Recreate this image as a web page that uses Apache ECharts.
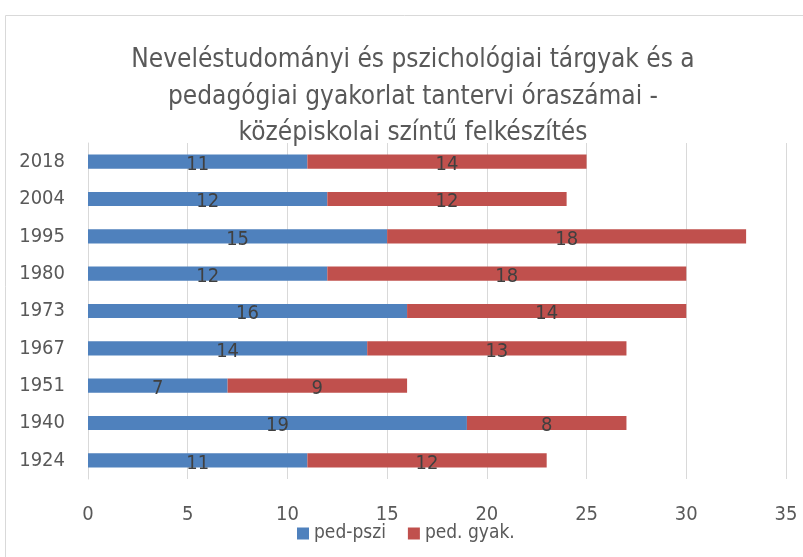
<!DOCTYPE html>
<html><head><meta charset="utf-8">
<script src="https://cdn.jsdelivr.net/npm/echarts@6/dist/echarts.min.js"></script>
<style>html,body{margin:0;padding:0;background:#fff}#c{width:803px;height:557px}</style>
</head><body><div id="c"></div>
<script>
const categories = ['1924','1940','1951','1967','1973','1980','1995','2004','2018'];
const pedPszi = [11, 19, 7, 14, 16, 12, 15, 12, 11];
const pedGyak = [12, 8, 9, 13, 14, 18, 18, 12, 14];
const seriesNames = ['ped-pszi', 'ped. gyak.'];
const xTicks = {min: 0, max: 35, interval: 5};
const titleText = 'Neveléstudományi és pszichológiai tárgyak és a\npedagógiai gyakorlat tantervi óraszámai -\nközépiskolai színtű felkészítés';

const FONT = '"Liberation Sans Narrow", "DejaVu Sans Condensed", "Open Sans", sans-serif';
const chart = echarts.init(document.getElementById('c'), null, {renderer: 'canvas'});
const lbl = {show: true, position: 'inside', color: '#404040', fontSize: 20, fontFamily: FONT, offset: [0, 3]};
chart.setOption({
  animation: false,
  graphic: [{type: 'rect', shape: {x: 5.5, y: 15.5, width: 820, height: 560}, style: {fill: 'none', stroke: '#D9D9D9', lineWidth: 1}, silent: true}],
  title: {text: titleText, left: 408, top: 37, textAlign: 'center',
    textStyle: {fontFamily: FONT, fontSize: 26, fontWeight: 'normal', color: '#595959', lineHeight: 36.5}},
  legend: {bottom: 9, left: 292, itemWidth: 12, itemHeight: 12, itemGap: 22, icon: 'rect',
    textStyle: {fontFamily: FONT, fontSize: 19, color: '#595959'}, data: seriesNames},
  grid: {left: 88, right: 17, top: 143, bottom: 78},
  xAxis: {type: 'value', min: xTicks.min, max: xTicks.max, interval: xTicks.interval,
    axisLine: {show: false}, axisTick: {show: false},
    axisLabel: {fontFamily: FONT, fontSize: 20, color: '#595959', margin: 26},
    splitLine: {lineStyle: {color: '#D9D9D9', width: 1}}},
  yAxis: {type: 'category', data: categories,
    axisLine: {show: true, lineStyle: {color: '#D9D9D9'}}, axisTick: {show: false},
    axisLabel: {fontFamily: FONT, fontSize: 20, color: '#595959', margin: 23}},
  series: [
    {name: seriesNames[0], type: 'bar', stack: 'a', data: pedPszi, barCategoryGap: '62%', itemStyle: {color: '#4F81BD'}, label: lbl},
    {name: seriesNames[1], type: 'bar', stack: 'a', data: pedGyak, barCategoryGap: '62%', itemStyle: {color: '#C0504D'}, label: lbl}
  ]
});
</script></body></html>
